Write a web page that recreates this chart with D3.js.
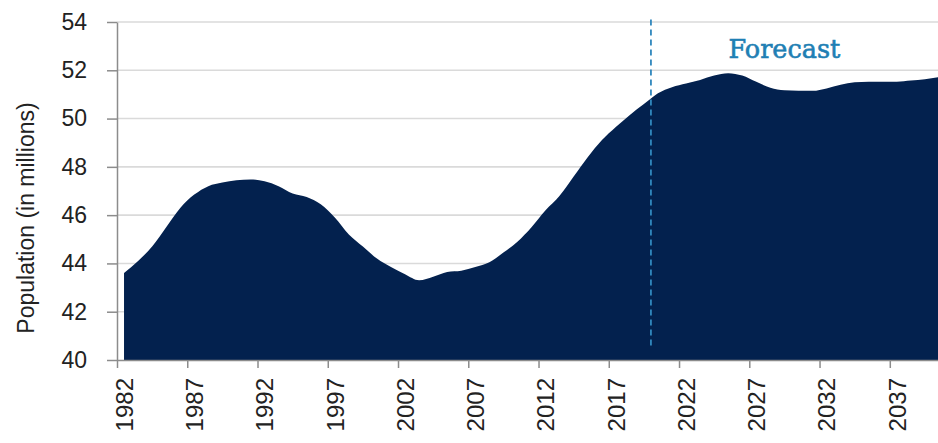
<!DOCTYPE html>
<html><head><meta charset="utf-8">
<script src="https://cdn.jsdelivr.net/npm/d3@7"></script>
<style>html,body{margin:0;padding:0;background:#fff;overflow:hidden}</style>
</head><body>
<svg id="chart" width="938" height="443"></svg>
<script>
// Annual population, 1982–2040 (millions); values from 2020 on are projections
const firstYear = 1982;
const population = [
  43.6, 44.1, 44.7, 45.5, 46.3, 46.85, 47.2, 47.35, 47.45, 47.48,
  47.4, 47.2, 46.9, 46.75, 46.45, 45.9, 45.2, 44.7, 44.2, 43.85,
  43.55, 43.3, 43.45, 43.65, 43.7, 43.85, 44.05, 44.45, 44.9, 45.5,
  46.2, 46.8, 47.6, 48.4, 49.1, 49.65, 50.15, 50.6, 51.05, 51.3,
  51.45, 51.6, 51.78, 51.88, 51.78, 51.52, 51.28, 51.17, 51.15, 51.15,
  51.25, 51.4, 51.5, 51.53, 51.53, 51.53, 51.58, 51.63, 51.72
];
const years = population.map((_, i) => firstYear + i);
const tickYears = [1982, 1987, 1992, 1997, 2002, 2007, 2012, 2017, 2022, 2027, 2032, 2037];
const yTicks = [40, 42, 44, 46, 48, 50, 52, 54];
const forecastStart = 2020;
const forecastLabel = "Forecast";
const yTitle = "Population (in millions)";

const data = years.map((yr, i) => ({ year: yr, value: population[i] }));
const lastYear = years[years.length - 1];

const svg = d3.select("#chart");
const W = 938;
const plotLeft = 117, plotRight = 946, plotTop = 22, plotBottom = 360;

// each year occupies one category slot; points sit at slot centres
const x = d3.scaleLinear().domain([firstYear - 0.5, lastYear + 0.5]).range([plotLeft, plotRight]);
const y = d3.scaleLinear().domain([40, 54]).range([plotBottom, plotTop]);

// horizontal gridlines
svg.append("g").selectAll("line").data(yTicks.filter(v => v > 40)).join("line")
  .attr("x1", plotLeft).attr("x2", W)
  .attr("y1", d => y(d)).attr("y2", d => y(d))
  .attr("stroke", "#dadada").attr("stroke-width", 1.6);

// population area
const area = d3.area()
  .x(d => x(d.year))
  .y0(y(40))
  .y1(d => y(d.value))
  .curve(d3.curveMonotoneX);
svg.append("path").datum(data)
  .attr("d", area)
  .attr("fill", "#03214e");

// forecast divider
svg.append("line")
  .attr("x1", x(forecastStart - 0.5)).attr("x2", x(forecastStart - 0.5))
  .attr("y1", y(54.1)).attr("y2", y(40.5))
  .attr("stroke", "#3188be").attr("stroke-width", 1.8)
  .attr("stroke-dasharray", "6,4");

svg.append("text")
  .attr("x", x(2029)).attr("y", 57.5)
  .attr("text-anchor", "middle")
  .attr("font-family", "'DejaVu Serif', serif")
  .attr("font-size", 25.5)
  .attr("fill", "#1f7fb4")
  .attr("stroke", "#1f7fb4").attr("stroke-width", 0.6)
  .text(forecastLabel);

const axisColor = "#8c8c8c";
const fontFam = "'Liberation Sans', Arial, sans-serif";

// y axis
const yAxis = svg.append("g").attr("transform", `translate(${plotLeft},0)`)
  .call(d3.axisLeft(y).tickValues(yTicks).tickSize(10).tickSizeOuter(0).tickPadding(20));
yAxis.selectAll("path, line").attr("stroke", axisColor).attr("stroke-width", 1.5);
yAxis.selectAll("text")
  .attr("font-family", fontFam).attr("font-size", 23).attr("fill", "#222");

// x axis: tick marks at category boundaries
const xTicks = svg.append("g").attr("transform", `translate(0,${plotBottom})`)
  .call(d3.axisBottom(x).tickValues(tickYears.map(t => t - 0.5)).tickSize(8).tickSizeOuter(0).tickFormat(""));
xTicks.selectAll("path, line").attr("stroke", axisColor).attr("stroke-width", 1.5);

// x axis labels at category centres
const xLabels = svg.append("g").attr("transform", `translate(0,${plotBottom})`)
  .call(d3.axisBottom(x).tickValues(tickYears).tickSize(0).tickFormat(d3.format("d")));
xLabels.select(".domain").remove();
xLabels.selectAll("text")
  .attr("font-family", fontFam).attr("font-size", 24).attr("fill", "#222")
  .attr("transform", "rotate(-90)")
  .attr("text-anchor", "end")
  .attr("x", -18).attr("y", 0).attr("dy", "0.35em");

// y axis title
svg.append("text")
  .attr("transform", "translate(26,218) rotate(-90)")
  .attr("text-anchor", "middle")
  .attr("dominant-baseline", "central")
  .attr("font-family", fontFam).attr("font-size", 23).attr("fill", "#222")
  .text(yTitle);
</script>
</body></html>
